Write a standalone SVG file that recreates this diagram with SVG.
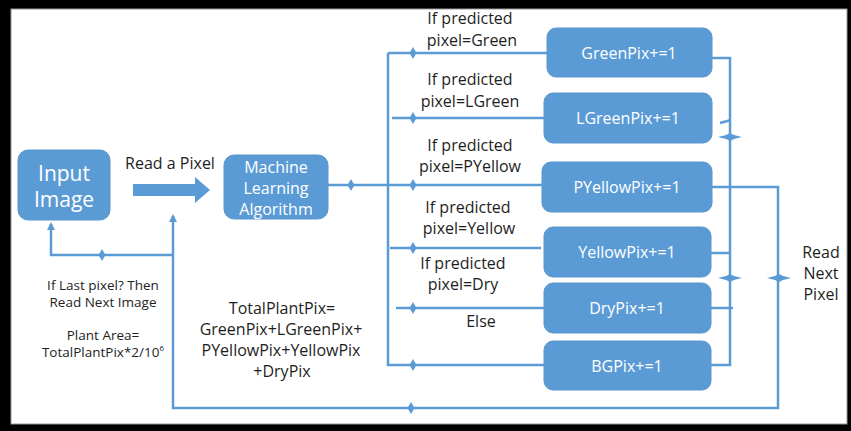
<svg xmlns="http://www.w3.org/2000/svg" width="851" height="431" viewBox="0 0 851 431">
<style>
.box{fill:#5B9BD5;stroke:#5A96CC;stroke-width:1}
.bt{fill:#ffffff;font-family:"Open Sans","Liberation Sans",sans-serif;text-anchor:middle;dominant-baseline:central}
.t{fill:#1e1e1e;font-family:"Open Sans","Liberation Sans",sans-serif;text-anchor:middle;dominant-baseline:central}
.ln{fill:none;stroke:#5B9BD5;stroke-width:2.5}
.dm{fill:#5B9BD5}
</style>
<defs>
<path id="dh" d="M0,-6 L3.5,0 L0,6 L-3.5,0 Z"/>
<path id="dv" d="M-12,0 L-4,-2 L0,-4 L4,-2 L12,0 L4,2 L0,4 L-4,2 Z"/>
<marker id="ah" markerWidth="8" markerHeight="8" refX="6" refY="4" orient="auto" markerUnits="userSpaceOnUse">
<path d="M0,0 L8,4 L0,8 Z" fill="#5B9BD5"/>
</marker>
</defs>
<rect x="0" y="0" width="851" height="431" fill="#000"/>
<rect x="11" y="9" width="836" height="415" fill="#fff" stroke="#999" stroke-width="1"/>

<g id="connectors">
<path class="ln" d="M328,185 L542,185"/>
<path class="ln" d="M388,53 L547,53"/>
<path class="ln" d="M388,53 L388,365 L544,365"/>
<path class="ln" d="M392,118 L544,118"/>
<path class="ln" d="M390,248 L541,248"/>
<path class="ln" d="M396,308 L544,308"/>
<path class="ln" d="M712,58 L730,58 L730,365 L711,365"/>
<path class="ln" d="M720,123 L731,120"/>
<path class="ln" d="M711,253 L730,253"/>
<path class="ln" d="M711,308 L733,308"/>
<path class="ln" d="M712,187 L778,187 L778,408 L173,408 L173,216" marker-end="url(#ah)"/>
<path class="ln" d="M173,255 L51,255 L51,224" marker-end="url(#ah)"/>
<path class="dm" d="M133,184 L195,184 L195,177 L210,190 L195,203 L195,196 L133,196 Z"/>
<use href="#dh" class="dm" x="351" y="185"/>
<use href="#dh" class="dm" x="413" y="53"/>
<use href="#dh" class="dm" x="413" y="118"/>
<use href="#dh" class="dm" x="413" y="185"/>
<use href="#dh" class="dm" x="413" y="248"/>
<use href="#dh" class="dm" x="413" y="308"/>
<use href="#dh" class="dm" x="413" y="365"/>
<use href="#dh" class="dm" x="411" y="408"/>
<use href="#dh" class="dm" x="102" y="255"/>
<use href="#dv" class="dm" x="730" y="137"/>
<use href="#dv" class="dm" x="730" y="278"/>
<use href="#dv" class="dm" x="779" y="278"/>
</g>

<g id="input">
<rect class="box" x="18" y="150" width="92" height="70" rx="10"/>
<text class="bt" x="64" y="173" font-size="21">Input</text>
<text class="bt" x="64" y="199" font-size="21">Image</text>
</g>
<g id="ml">
<rect class="box" x="224" y="155" width="104" height="64" rx="10"/>
<text class="bt" x="276" y="167" font-size="16">Machine</text>
<text class="bt" x="276" y="188" font-size="16">Learning</text>
<text class="bt" x="276" y="209" font-size="16">Algorithm</text>
</g>
<g id="green">
<rect class="box" x="547" y="28" width="165" height="49" rx="9"/>
<text class="bt" x="629" y="53" font-size="16">GreenPix+=1</text>
</g>
<g id="lgreen">
<rect class="box" x="544" y="93" width="168" height="50" rx="9"/>
<text class="bt" x="628" y="118" font-size="16">LGreenPix+=1</text>
</g>
<g id="pyellow">
<rect class="box" x="542" y="162" width="170" height="50" rx="9"/>
<text class="bt" x="627" y="187" font-size="16">PYellowPix+=1</text>
</g>
<g id="yellow">
<rect class="box" x="544" y="227" width="167" height="50" rx="9"/>
<text class="bt" x="627" y="252" font-size="16">YellowPix+=1</text>
</g>
<g id="dry">
<rect class="box" x="544" y="283" width="167" height="50" rx="9"/>
<text class="bt" x="627" y="308" font-size="16">DryPix+=1</text>
</g>
<g id="bg">
<rect class="box" x="544" y="341" width="167" height="49" rx="9"/>
<text class="bt" x="627" y="366" font-size="16">BGPix+=1</text>
</g>

<g id="labels">
<text class="t" x="170" y="163" font-size="16">Read a Pixel</text>
<text class="t" x="470" y="18" font-size="16">If predicted</text>
<text class="t" x="472" y="40" font-size="16">pixel=Green</text>
<text class="t" x="470" y="79" font-size="16">If predicted</text>
<text class="t" x="470" y="101" font-size="16">pixel=LGreen</text>
<text class="t" x="470" y="145" font-size="16">If predicted</text>
<text class="t" x="470" y="166" font-size="16">pixel=PYellow</text>
<text class="t" x="468" y="207" font-size="16">If predicted</text>
<text class="t" x="469" y="228" font-size="16">pixel=Yellow</text>
<text class="t" x="463" y="263" font-size="16">If predicted</text>
<text class="t" x="463" y="284" font-size="16">pixel=Dry</text>
<text class="t" x="481" y="321" font-size="16">Else</text>
<text class="t" x="821" y="252" font-size="16">Read</text>
<text class="t" x="821" y="273" font-size="16">Next</text>
<text class="t" x="821" y="294" font-size="16">Pixel</text>
<text class="t" x="103" y="285" font-size="13.5">If Last pixel? Then</text>
<text class="t" x="103" y="302" font-size="13.5">Read Next Image</text>
<text class="t" x="103" y="335" font-size="13.5">Plant Area=</text>
<text class="t" x="103" y="352" font-size="13.5">TotalPlantPix*2/10<tspan font-size="8" dy="-5">6</tspan></text>
<text class="t" x="282" y="308" font-size="16">TotalPlantPix=</text>
<text class="t" x="281" y="329" font-size="16">GreenPix+LGreenPix+</text>
<text class="t" x="281" y="350" font-size="16">PYellowPix+YellowPix</text>
<text class="t" x="282" y="371" font-size="16">+DryPix</text>
</g>
</svg>
